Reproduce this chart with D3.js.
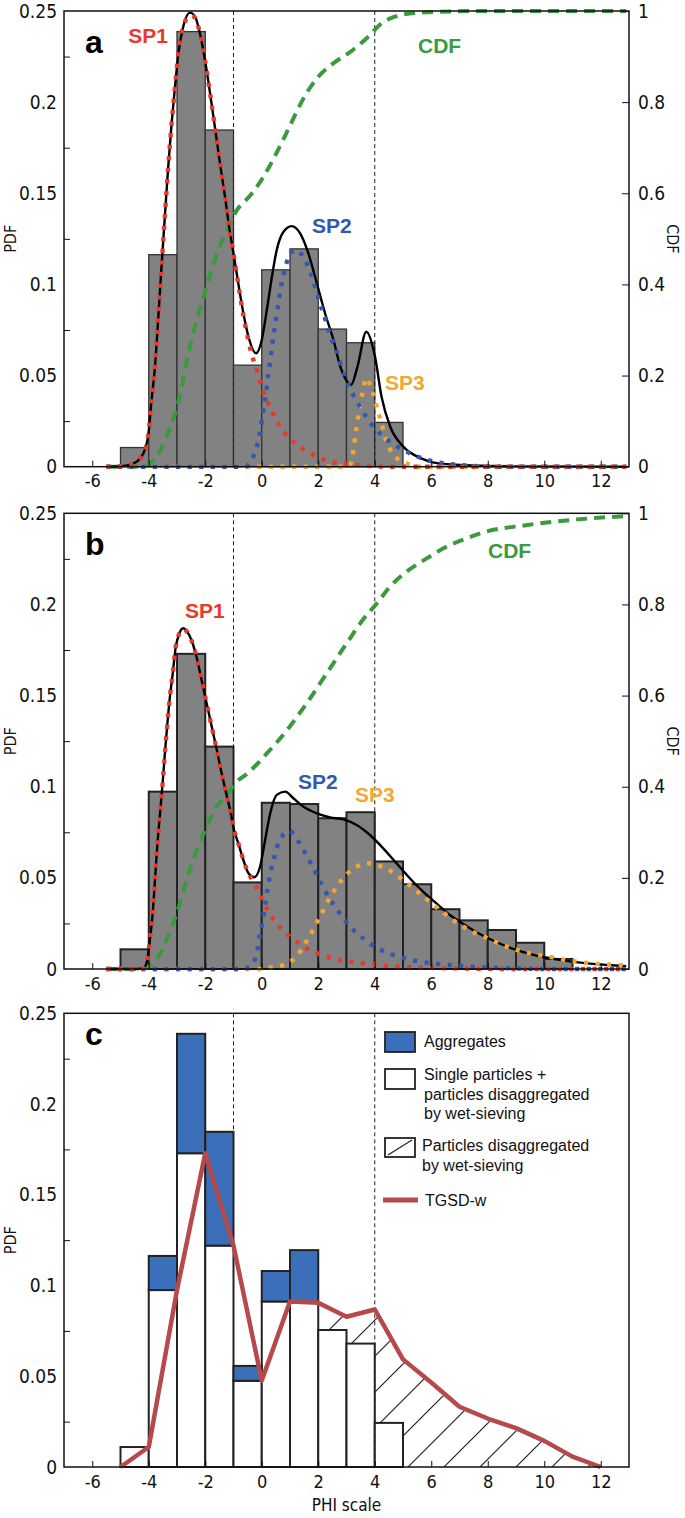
<!DOCTYPE html>
<html><head><meta charset="utf-8">
<script src="https://cdn.jsdelivr.net/npm/d3@7"></script>
<style>
body{margin:0;background:#fff}
svg{display:block}
.tick text{font-family:"DejaVu Sans Condensed","DejaVu Sans",sans-serif;font-stretch:condensed;fill:#111}
</style>
</head><body>
<svg id="chart" width="685" height="1518"></svg>
<script>
// ---------------- DATA ----------------
const xTicks = [-6,-4,-2,0,2,4,6,8,10,12];
const pdfTicks = [0,0.05,0.1,0.15,0.2,0.25];
const pdfMinorTicks = [0.025,0.075,0.125,0.175,0.225];
const cdfTicks = [0,0.2,0.4,0.6,0.8,1];
const limitLines = [-1,4];

// histogram bins: lower edges (width 1 phi)
const binsA = [-5,-4,-3,-2,-1,0,1,2,3,4];
const pdfA  = [0.0105,0.1163,0.2387,0.1847,0.0557,0.108,0.1195,0.0755,0.068,0.0243];
const binsB = [-5,-4,-3,-2,-1,0,1,2,3,4,5,6,7,8,9,10];
const pdfB  = [0.0108,0.0973,0.1729,0.122,0.0475,0.0912,0.0905,0.0827,0.086,0.059,0.0465,0.0328,0.0267,0.0214,0.0144,0.0055];

// panel c
const binsC = [-5,-4,-3,-2,-1,0,1,2,3,4];
const singleC = [0.0110,0.0975,0.1729,0.122,0.0475,0.0912,0.0905,0.0755,0.068,0.0243];
const aggregatesC = [0,0.0188,0.0658,0.0627,0.0082,0.0168,0.029,0,0,0];
const tgsdX = [-5,-4,-3,-2,-1,0,1,2,3,4,5,6,7,8,9,10,11,12];
const tgsdW = [0,0.0110,0.0975,0.1729,0.122,0.0476,0.0912,0.0905,0.0828,0.0868,0.0593,0.0465,0.0332,0.0267,0.0214,0.0144,0.0057,0];

// panel a curves [phi, value]
const totalA = [[-5.5,0],[-4.8,0.0006],[-4.43,0.0027],[-4.19,0.0073],[-4.01,0.0183],[-3.9,0.0366],[-3.78,0.0549],[-3.66,0.0823],[-3.54,0.1116],[-3.43,0.1372],[-3.31,0.1646],[-3.19,0.1884],[-3.07,0.2085],[-2.95,0.2268],[-2.78,0.2414],[-2.54,0.2491],[-2.36,0.2469],[-2.19,0.2378],[-2.01,0.2231],[-1.83,0.2049],[-1.66,0.1865],[-1.48,0.1665],[-1.3,0.1481],[-1.15,0.131],[-1.0,0.117],[-0.83,0.1006],[-0.65,0.0842],[-0.47,0.0713],[-0.2,0.0622],[0.0,0.0695],[0.18,0.086],[0.36,0.1042],[0.53,0.1189],[0.77,0.1289],[1.06,0.132],[1.36,0.128],[1.65,0.117],[1.95,0.1006],[2.24,0.0842],[2.54,0.0695],[2.77,0.0555],[2.97,0.048],[3.16,0.0448],[3.39,0.0549],[3.7,0.074],[4.01,0.0603],[4.24,0.0384],[4.55,0.0219],[5.01,0.011],[5.64,0.0046],[6.26,0.0018],[7.8,0.0005],[9,0.0002],[12.9,0]];
const sp1A = [[-5.5,0],[-4.8,0.0006],[-4.43,0.0027],[-4.19,0.0073],[-4.01,0.0183],[-3.9,0.0366],[-3.78,0.0549],[-3.66,0.0823],[-3.54,0.1116],[-3.43,0.1372],[-3.31,0.1646],[-3.19,0.1884],[-3.07,0.2085],[-2.95,0.2268],[-2.78,0.2414],[-2.54,0.2475],[-2.36,0.2462],[-2.19,0.2378],[-2.01,0.2231],[-1.83,0.2049],[-1.66,0.1865],[-1.48,0.1665],[-1.3,0.1481],[-1.15,0.131],[-1.0,0.117],[-0.83,0.1],[-0.65,0.083],[-0.47,0.069],[-0.36,0.0618],[-0.17,0.053],[-0.03,0.0448],[0.18,0.0366],[0.44,0.0278],[0.74,0.0201],[1.12,0.0137],[1.57,0.0088],[2.09,0.0046],[2.66,0.0022],[3.3,0.001],[4.5,0],[12.9,0]];
const sp2A = [[-5.5,0],[-0.6,0],[-0.33,0.0046],[-0.16,0.0119],[-0.04,0.021],[0.05,0.0302],[0.14,0.0388],[0.21,0.0476],[0.29,0.0567],[0.36,0.0658],[0.44,0.0744],[0.53,0.0832],[0.61,0.092],[0.71,0.101],[0.84,0.1097],[1.06,0.118],[1.25,0.119],[1.47,0.1149],[1.71,0.107],[1.89,0.0984],[2.06,0.0896],[2.24,0.0814],[2.42,0.0722],[2.63,0.064],[2.9,0.051],[3.24,0.0393],[3.55,0.031],[3.86,0.0238],[4.24,0.0174],[4.71,0.0119],[5.25,0.0073],[5.8,0.004],[6.2,0.0025],[6.8,0.0012],[7.4,0.0005],[8.5,0],[12.9,0]];
const sp3A = [[-5.5,0],[3.0,0],[3.16,0.002],[3.31,0.0165],[3.43,0.0293],[3.55,0.0393],[3.7,0.0485],[3.93,0.0403],[4.09,0.032],[4.25,0.023],[4.4,0.0146],[4.63,0.0073],[5.1,0.002],[5.6,0],[12.9,0]];
const cdfA = [[-5.4,0],[-4.5,0],[-4,0.005],[-3.6,0.035],[-3.25,0.085],[-3.0,0.13],[-2.54,0.265],[-2.07,0.37],[-1.6,0.465],[-1.18,0.527],[-0.88,0.563],[-0.41,0.595],[0.05,0.635],[0.52,0.688],[0.98,0.746],[1.45,0.805],[1.91,0.849],[2.53,0.885],[3.15,0.911],[3.78,0.944],[4.24,0.973],[4.71,0.9875],[5.3,0.995],[6.2,0.998],[8,1],[12.9,1]];

// panel b curves
const totalB = [[-5.5,0],[-4.4,0],[-4.19,0.0004],[-4.05,0.0049],[-3.96,0.0159],[-3.86,0.0306],[-3.78,0.0488],[-3.7,0.0671],[-3.6,0.0854],[-3.5,0.1037],[-3.42,0.1201],[-3.34,0.1348],[-3.25,0.1494],[-3.15,0.1622],[-3.05,0.176],[-2.92,0.184],[-2.78,0.1869],[-2.62,0.1845],[-2.49,0.1805],[-2.31,0.1713],[-2.13,0.1585],[-1.95,0.1457],[-1.77,0.1329],[-1.59,0.1201],[-1.42,0.1074],[-1.26,0.0964],[-1.12,0.0872],[-0.98,0.0763],[-0.83,0.069],[-0.65,0.0598],[-0.47,0.0525],[-0.27,0.0503],[-0.06,0.0561],[0.12,0.0708],[0.3,0.0854],[0.53,0.0955],[0.83,0.0973],[1.12,0.0937],[1.48,0.089],[1.95,0.0854],[2.42,0.0832],[2.89,0.0821],[3.36,0.079],[3.83,0.0735],[4.3,0.0662],[4.77,0.058],[5.24,0.0498],[5.71,0.0424],[6.18,0.036],[6.66,0.0296],[7.13,0.0247],[7.72,0.0192],[8.3,0.0148],[8.9,0.011],[9.5,0.0082],[10.1,0.0062],[10.9,0.0042],[11.7,0.0028],[12.9,0.0016]];
const sp1B = [[-5.5,0],[-4.4,0],[-4.19,0.0004],[-4.05,0.0049],[-3.96,0.0159],[-3.86,0.0306],[-3.78,0.0488],[-3.7,0.0671],[-3.6,0.0854],[-3.5,0.1037],[-3.42,0.1201],[-3.34,0.1348],[-3.25,0.1494],[-3.15,0.1622],[-3.05,0.176],[-2.92,0.184],[-2.78,0.1865],[-2.62,0.1845],[-2.49,0.1805],[-2.31,0.1713],[-2.13,0.1585],[-1.95,0.1457],[-1.77,0.1329],[-1.59,0.1201],[-1.42,0.1074],[-1.26,0.0964],[-1.12,0.0872],[-0.98,0.0763],[-0.83,0.069],[-0.65,0.0598],[-0.47,0.0525],[-0.2,0.0452],[0.06,0.0369],[0.32,0.0296],[0.65,0.0227],[1.12,0.0163],[1.59,0.0113],[2.13,0.0077],[2.66,0.0053],[3.25,0.0038],[3.84,0.0027],[4.43,0.0016],[5.6,0.0008],[7,0.0003],[9,0],[12.9,0]];
const sp2B = [[-5.5,0],[-0.7,0],[-0.41,0.0013],[-0.17,0.0089],[-0.08,0.0177],[0.03,0.0263],[0.12,0.0351],[0.21,0.0443],[0.32,0.0534],[0.45,0.0616],[0.62,0.0702],[0.98,0.0757],[1.36,0.0684],[1.63,0.061],[1.89,0.0534],[2.16,0.0452],[2.45,0.0375],[2.78,0.0302],[3.13,0.0232],[3.55,0.0172],[4.05,0.0119],[4.57,0.0082],[5.11,0.0057],[5.7,0.0038],[6.26,0.0027],[6.84,0.0019],[8,0.0008],[9,0.0003],[10,0],[12.9,0]];
const sp3B = [[-5.5,0],[0,0],[0.18,0.0005],[0.77,0.0022],[1.22,0.0068],[1.54,0.0141],[1.83,0.0218],[2.09,0.0296],[2.37,0.0379],[2.66,0.0452],[3.02,0.0521],[3.49,0.0571],[3.8,0.058],[4.08,0.0571],[4.61,0.0534],[5.08,0.0479],[5.52,0.0424],[5.97,0.0366],[6.42,0.0311],[6.89,0.0256],[7.39,0.021],[7.97,0.017],[8.51,0.0132],[9.05,0.0104],[9.6,0.0082],[10.14,0.0068],[10.76,0.0049],[11.3,0.0037],[11.92,0.0028],[12.47,0.0022],[12.9,0.0018]];
const cdfB = [[-5.5,0],[-4.4,0],[-4.19,0.001],[-3.78,0.016],[-3.37,0.064],[-3.01,0.122],[-2.66,0.195],[-2.3,0.261],[-1.95,0.312],[-1.6,0.356],[-1.24,0.382],[-0.89,0.411],[-0.53,0.428],[0.18,0.473],[0.89,0.524],[1.59,0.583],[2.3,0.649],[3.01,0.715],[3.6,0.768],[4.07,0.802],[4.54,0.839],[5.13,0.872],[5.84,0.901],[6.55,0.927],[7.26,0.945],[7.73,0.956],[9.36,0.974],[10.9,0.985],[12.9,0.994]];

// ---------------- STYLE / LAYOUT ----------------
const C = {red:"#e8392b", blue:"#3557b0", orange:"#f2a735", green:"#3a9a3c", bar:"#828282", agg:"#3c6fb9", tgsd:"#b5494b"};
const svg = d3.select("#chart");
const x = d3.scaleLinear().domain([-7,13]).range([64,629]);
const panels = [{top:11,bottom:466.7},{top:513.3,bottom:969},{top:1013.3,bottom:1467}];
const fmt = d => String(+d.toFixed(3));
const labelFont = '"Liberation Sans",Arial,sans-serif';
const tickFont = '"DejaVu Sans Condensed","DejaVu Sans",sans-serif';

function makeY(p){ return d3.scaleLinear().domain([0,0.25]).range([p.bottom,p.top]); }
function makeCdf(p){ return d3.scaleLinear().domain([0,1]).range([p.bottom,p.top]); }

function axes(p, y, cdf){
  const gx = svg.append("g").attr("transform",`translate(0,${p.bottom})`)
    .call(d3.axisBottom(x).tickValues(xTicks).tickSizeInner(-6).tickSizeOuter(0).tickPadding(8).tickFormat(fmt));
  gx.select(".domain").remove();
  gx.selectAll("text").attr("font-size",18);
  gx.selectAll("line").attr("stroke","#111");
  const gl = svg.append("g").attr("transform",`translate(${x.range()[0]},0)`)
    .call(d3.axisLeft(y).tickValues(pdfTicks).tickSize(0).tickPadding(7).tickFormat(fmt));
  gl.select(".domain").remove();
  gl.selectAll("text").attr("font-size",19);
  const gm = svg.append("g").attr("transform",`translate(${x.range()[0]},0)`)
    .call(d3.axisLeft(y).tickValues(pdfMinorTicks).tickSize(-6).tickFormat(""));
  gm.select(".domain").remove();
  gm.selectAll("line").attr("stroke","#111");
  if(cdf){
    const gr = svg.append("g").attr("transform",`translate(${x.range()[1]},0)`)
      .call(d3.axisRight(cdf).tickValues(cdfTicks).tickSizeInner(-7).tickSizeOuter(0).tickPadding(9).tickFormat(fmt));
    gr.select(".domain").remove();
    gr.selectAll("text").attr("font-size",19);
    gr.selectAll("line").attr("stroke","#111");
  }
  svg.append("rect").attr("x",x.range()[0]).attr("y",p.top)
    .attr("width",x.range()[1]-x.range()[0]).attr("height",p.bottom-p.top)
    .attr("fill","none").attr("stroke","#111").attr("stroke-width",1.5);
  const cy = (p.top+p.bottom)/2;
  svg.append("text").attr("transform",`translate(16,${cy}) rotate(-90)`).attr("text-anchor","middle")
    .attr("font-family",tickFont).attr("font-size",16).attr("fill","#111").text("PDF");
  if(cdf){
    svg.append("text").attr("transform",`translate(667,${cy}) rotate(90)`).attr("text-anchor","middle")
      .attr("font-family",tickFont).attr("font-size",16).attr("fill","#111").text("CDF");
  }
}

function bars(bins, vals, y, fill, stroke, sw){
  svg.append("g").selectAll("rect").data(bins).join("rect")
    .attr("x",d=>x(d)).attr("width",d=>x(d+1)-x(d))
    .attr("y",(d,i)=>y(vals[i])).attr("height",(d,i)=>y(0)-y(vals[i]))
    .attr("fill",fill).attr("stroke",stroke).attr("stroke-width",sw);
}
function vlines(p){
  svg.append("g").selectAll("line").data(limitLines).join("line")
    .attr("x1",d=>x(d)).attr("x2",d=>x(d)).attr("y1",p.top).attr("y2",p.bottom)
    .attr("stroke","#222").attr("stroke-width",1).attr("stroke-dasharray","4,3");
}
function curve(data, y, color, style){
  const line = d3.line().x(d=>x(d[0])).y(d=>y(d[1])).curve(d3.curveMonotoneX);
  const path = svg.append("path").datum(data).attr("d",line).attr("fill","none").attr("stroke",color);
  if(style==="solid") path.attr("stroke-width",2.4);
  if(style==="dot") path.attr("stroke-width",4.4).attr("stroke-dasharray","4.2,7.4");
  if(style==="dash") path.attr("stroke-width",4).attr("stroke-dasharray","11,7");
}
function label(txt, xv, yv, y, color, size){
  svg.append("text").attr("x",x(xv)).attr("y",y(yv)).attr("font-family",labelFont)
    .attr("font-weight","bold").attr("font-size",size).attr("fill",color).text(txt);
}

// ---------------- PANEL A ----------------
{
  const p = panels[0], y = makeY(p), cdf = makeCdf(p);
  bars(binsA, pdfA, y, C.bar, "#333", 1.3);
  vlines(p);
  curve(cdfA, cdf, C.green, "dash");
  curve(totalA, y, "#000", "solid");
  curve(sp3A, y, C.orange, "dot");
  curve(sp2A, y, C.blue, "dot");
  curve(sp1A, y, C.red, "dot");
  axes(p, y, cdf);
  label("a", -6.26, 0.2269, y, "#000", 32);
  label("SP1", -4.73, 0.2325, y, C.red, 21);
  label("CDF", 5.53, 0.2269, y, C.green, 21);
  label("SP2", 1.78, 0.1282, y, C.blue, 21);
  label("SP3", 4.36, 0.0421, y, C.orange, 21);
}
// ---------------- PANEL B ----------------
{
  const p = panels[1], y = makeY(p), cdf = makeCdf(p);
  bars(binsB, pdfB, y, C.bar, "#222", 2);
  vlines(p);
  curve(cdfB, cdf, C.green, "dash");
  curve(totalB, y, "#000", "solid");
  curve(sp3B, y, C.orange, "dot");
  curve(sp2B, y, C.blue, "dot");
  curve(sp1B, y, C.red, "dot");
  axes(p, y, cdf);
  label("b", -6.26, 0.2271, y, "#000", 32);
  label("SP1", -2.72, 0.1926, y, C.red, 21);
  label("CDF", 8.01, 0.2255, y, C.green, 21);
  label("SP2", 1.28, 0.0988, y, C.blue, 21);
  label("SP3", 3.30, 0.0916, y, C.orange, 21);
}
// ---------------- PANEL C ----------------
{
  const p = panels[2], y = makeY(p);
  const defs = svg.append("defs");
  defs.append("pattern").attr("id","hatch").attr("patternUnits","userSpaceOnUse")
    .attr("width",36).attr("height",36).attr("patternTransform","translate(3,0)")
    .append("path").attr("d","M0,36 L36,0 M-9,9 L9,-9 M27,45 L45,27")
    .attr("stroke","#222").attr("stroke-width",1.2);
  // hatched region: between TGSD-w line and single-particle bars, phi >= 2
  const topPts = tgsdX.map((v,i)=>[v,tgsdW[i]]).filter(d=>d[0]>=2);
  const botPts = [];
  binsC.forEach((b,i)=>{ if(b>=2){ botPts.push([b,singleC[i]],[b+1,singleC[i]]); } });
  botPts.push([binsC[binsC.length-1]+1,0],[tgsdX[tgsdX.length-1],0]);
  const poly = topPts.concat(botPts.reverse());
  svg.append("path").attr("d","M"+poly.map(d=>[x(d[0]),y(d[1])].join(",")).join("L")+"Z")
    .attr("fill","url(#hatch)").attr("stroke","none");
  bars(binsC, singleC, y, "#fff", "#222", 2);
  svg.append("g").selectAll("rect").data(binsC.filter((d,i)=>aggregatesC[i]>0)).join("rect")
    .attr("x",d=>x(d)).attr("width",d=>x(d+1)-x(d))
    .attr("y",d=>{const i=binsC.indexOf(d); return y(singleC[i]+aggregatesC[i]);})
    .attr("height",d=>{const i=binsC.indexOf(d); return y(singleC[i])-y(singleC[i]+aggregatesC[i]);})
    .attr("fill",C.agg).attr("stroke","#222").attr("stroke-width",2);
  vlines(p);
  svg.append("path").datum(tgsdX.map((v,i)=>[v,tgsdW[i]]))
    .attr("d",d3.line().x(d=>x(d[0])).y(d=>y(d[1])))
    .attr("fill","none").attr("stroke",C.tgsd).attr("stroke-width",4.5).attr("stroke-linejoin","round");
  axes(p, y, null);
  label("c", -6.26, 0.2325, y, "#000", 32);
  svg.append("text").attr("x",(x.range()[0]+x.range()[1])/2).attr("y",1511).attr("text-anchor","middle")
    .attr("font-family",tickFont).attr("font-size",17).attr("fill","#111").text("PHI scale");
  // legend
  const lg = svg.append("g").attr("font-family",labelFont).attr("font-size",16).attr("fill","#111");
  const lx = 385, tx = 424;
  lg.append("rect").attr("x",lx).attr("y",1032).attr("width",30).attr("height",20).attr("fill",C.agg).attr("stroke","#222").attr("stroke-width",1.8);
  lg.append("text").attr("x",tx).attr("y",1047).text("Aggregates");
  lg.append("rect").attr("x",lx).attr("y",1069).attr("width",30).attr("height",20).attr("fill","#fff").attr("stroke","#222").attr("stroke-width",1.8);
  ["Single particles +","particles disaggregated","by wet-sieving"].forEach((t,i)=>
    lg.append("text").attr("x",tx).attr("y",1080+i*19.5).text(t));
  lg.append("rect").attr("x",lx).attr("y",1138).attr("width",30).attr("height",19).attr("fill","#fff").attr("stroke","#222").attr("stroke-width",1.8);
  lg.append("line").attr("x1",lx+3).attr("y1",1155).attr("x2",lx+27).attr("y2",1140).attr("stroke","#222").attr("stroke-width",1.2);
  ["Particles disaggregated","by wet-sieving"].forEach((t,i)=>
    lg.append("text").attr("x",tx-2).attr("y",1151+i*19.5).text(t));
  lg.append("line").attr("x1",383).attr("x2",418).attr("y1",1200).attr("y2",1200).attr("stroke",C.tgsd).attr("stroke-width",5);
  lg.append("text").attr("x",tx+1).attr("y",1206).text("TGSD-w");
}
</script>
</body></html>
